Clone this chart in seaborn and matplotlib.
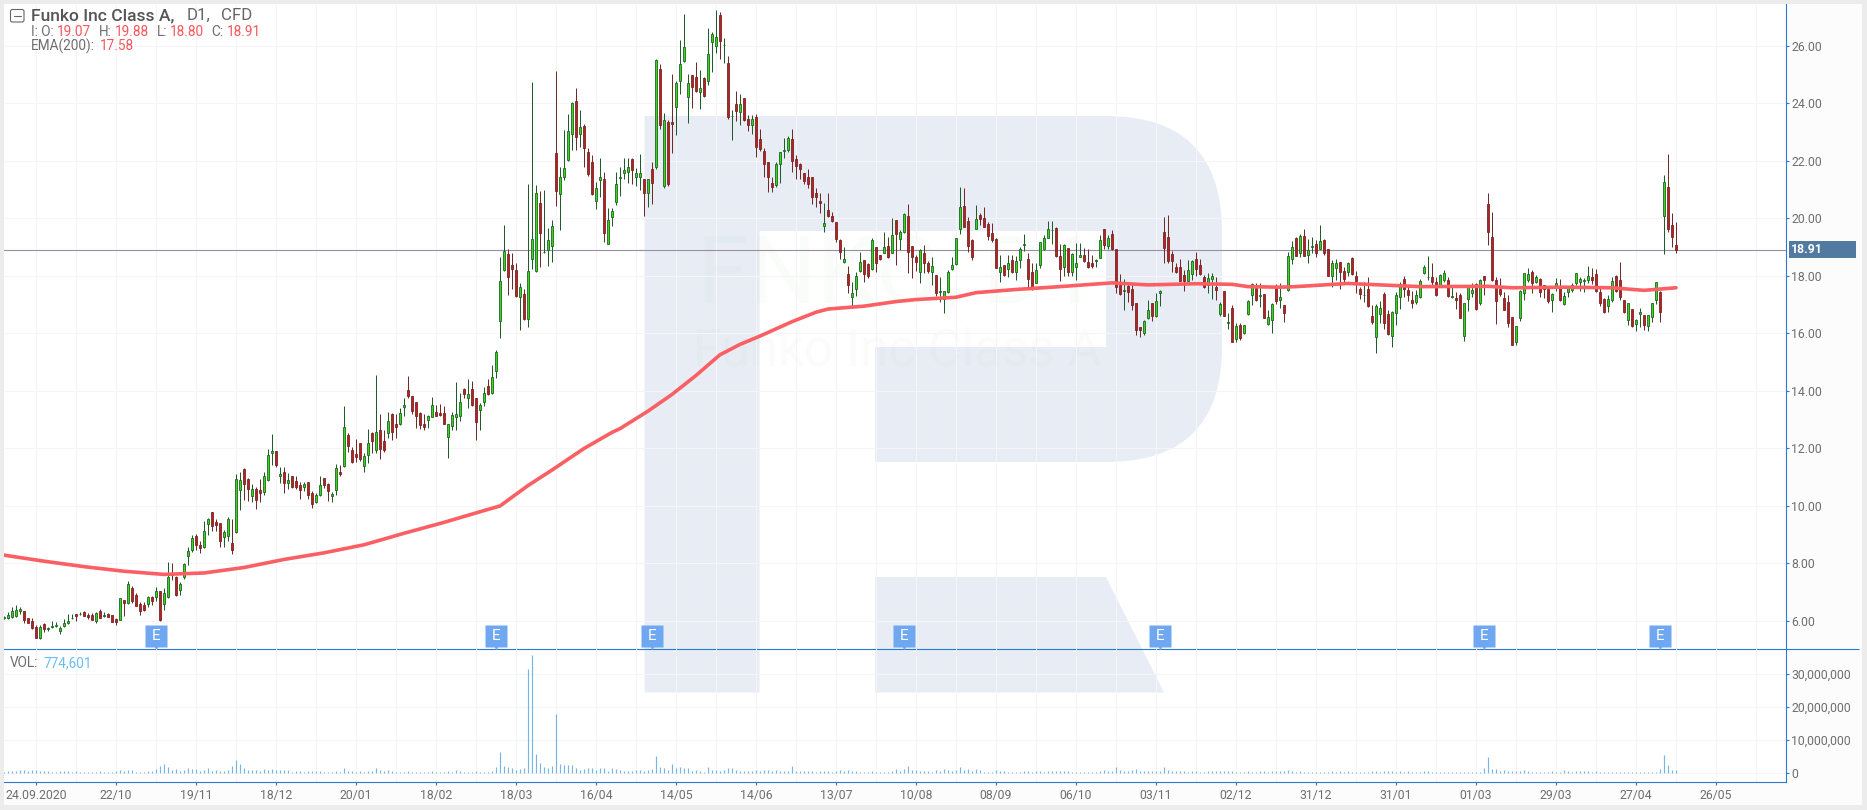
import numpy as np
import matplotlib
matplotlib.use("Agg")
import matplotlib.pyplot as plt
from matplotlib.patches import Rectangle, PathPatch, FancyBboxPatch
from matplotlib.path import Path
from matplotlib.ticker import FuncFormatter, FixedLocator
import seaborn as sns

# Daily candles for Funko Inc Class A
opens = [
6.09,6.10,6.14,6.17,6.35,6.32,6.11,5.98,5.77,5.41,
5.87,5.70,5.79,5.83,5.65,5.81,5.92,6.08,6.22,6.22,
6.31,6.20,6.19,5.99,6.32,6.15,6.22,6.19,6.05,6.03,
6.71,6.63,7.12,6.88,6.57,6.54,6.57,6.82,6.83,7.05,
6.57,6.81,7.63,7.52,7.08,7.51,8.26,8.45,8.93,8.65,
8.57,9.37,9.77,9.43,9.39,8.90,8.96,8.69,9.07,10.56,
11.28,10.92,10.35,10.57,10.53,10.49,10.90,11.84,11.89,11.05,
11.16,10.78,11.05,10.85,10.71,10.66,10.81,10.43,10.12,10.38,
10.95,10.75,10.32,10.53,11.16,11.37,12.46,11.92,11.79,12.17,
11.37,11.77,12.52,11.95,12.65,12.24,12.54,13.18,12.84,12.83,
13.42,14.01,13.80,13.59,13.21,12.83,12.99,13.10,13.25,13.21,
13.21,12.40,12.78,13.10,13.13,14.05,13.76,14.05,13.73,13.32,
13.59,14.15,13.93,14.67,
16.44,18.20,18.74,18.36,18.19,17.27,17.35,16.51,18.59,18.18,
20.52,18.81,18.91,19.05,22.26,20.85,21.42,22.01,22.92,24.07,
22.92,23.20,22.29,21.94,20.61,21.32,21.35,19.11,20.05,20.55,
21.39,21.56,21.60,22.05,21.42,21.42,21.38,20.89,21.70,21.79,
25.18,21.13,23.33,23.33,23.86,24.76,25.46,24.23,24.97,24.90,
24.38,24.87,24.76,26.12,25.98,27.06,26.01,25.39,23.54,23.96,
23.68,24.17,23.44,23.25,23.51,22.74,22.33,21.94,21.21,21.17,
21.87,22.33,22.36,22.74,22.07,21.87,21.56,21.42,21.42,20.87,
20.59,19.74,20.27,20.07,19.86,19.23,18.47,18.05,17.25,17.53,
18.15,18.53,18.40,18.22,18.99,
18.72,18.80,19.04,18.80,19.94,19.29,19.51,20.08,19.04,18.64,
18.12,18.78,18.43,18.12,18.03,17.42,17.20,17.42,18.25,18.42,
19.64,20.43,19.91,19.25,19.61,20.11,20.00,19.80,19.48,19.27,
18.13,18.36,18.22,18.55,18.12,18.54,19.08,18.57,18.12,17.76,
18.37,18.93,19.32,19.58,19.65,18.69,18.31,18.95,18.14,18.31,
18.66,18.73,18.46,18.43,18.52,18.63,19.61,19.04,19.44,18.92,
17.66,17.46,17.64,17.53,17.04,16.20,16.02,16.54,17.04,16.61,
17.39,19.52,19.33,18.74,18.29,18.29,18.01,17.83,18.05,18.57,
18.36,17.94,17.69,17.90,17.61,16.68,17.46,16.37,16.86,15.80,
16.28,15.99,16.68,17.32,17.57,17.31,17.35,16.31,16.47,17.57,
17.16,
16.98,17.50,18.57,19.31,18.78,19.37,18.73,19.00,19.09,18.94,
19.23,18.92,18.00,18.26,18.46,18.15,18.14,18.60,17.98,17.53,
17.32,17.53,16.59,15.86,16.68,17.35,16.66,15.91,16.71,17.27,
17.87,17.49,17.14,17.08,17.25,18.10,17.94,17.94,17.77,17.62,
17.84,17.84,17.25,17.21,17.32,15.89,17.18,17.39,17.70,17.06,
17.98,20.48,19.33,17.84,17.53,17.21,17.07,16.55,15.68,16.52,
17.39,17.85,18.12,17.77,17.87,17.66,17.53,17.14,17.60,17.60,
17.03,17.42,17.49,17.73,17.77,17.83,17.84,17.94,18.05,17.42,
17.18,16.94,17.14,17.98,17.84,17.14,16.45,16.83,16.31,16.66,
16.62,16.24,16.55,17.14,17.42,20.09,21.07,19.75,19.07,
]
closes = [
6.14,6.19,6.32,6.36,6.39,6.02,5.93,5.76,5.41,5.77,
5.72,5.73,5.81,5.86,5.76,5.91,5.98,6.11,6.17,6.24,
6.17,6.14,6.03,6.28,6.10,6.20,6.14,5.97,5.97,6.78,
6.63,7.26,6.70,6.52,6.35,6.37,6.82,6.70,7.02,6.03,
6.95,7.51,7.58,6.89,7.26,7.98,8.41,8.86,8.64,8.54,
9.11,9.52,9.30,9.34,8.78,9.08,9.52,8.46,10.92,10.88,
10.74,10.57,10.57,10.21,10.45,11.02,11.75,11.89,11.41,11.11,
10.80,10.88,10.66,10.64,10.56,10.74,10.38,10.07,10.36,10.71,
10.73,10.51,10.39,11.30,11.11,12.72,12.06,11.53,11.68,11.63,
11.72,12.17,12.26,12.55,11.98,11.95,12.93,12.57,12.75,13.21,
13.49,13.83,13.29,13.13,12.82,12.75,13.11,13.49,13.13,13.14,
12.85,12.83,13.14,13.18,13.59,13.90,13.87,13.50,12.92,13.49,
13.91,13.87,14.46,15.33,
17.80,18.85,17.97,18.24,17.29,17.60,16.49,18.15,19.27,20.87,
19.50,18.83,19.23,19.72,20.96,21.45,21.73,23.02,24.00,22.84,
23.16,22.45,21.54,20.85,21.04,21.45,19.50,19.93,20.24,21.18,
21.42,21.67,21.77,21.69,21.56,21.56,20.89,21.38,21.24,25.49,
23.23,23.40,21.19,23.27,24.69,25.35,25.94,24.69,24.58,24.44,
24.52,24.26,25.70,26.40,26.29,26.15,26.03,23.53,23.57,23.74,
23.96,23.43,23.25,23.44,22.49,22.42,21.87,21.45,21.07,21.87,
22.29,22.36,22.78,21.99,21.83,21.72,21.31,21.18,20.75,20.75,
20.52,19.82,20.09,19.91,19.29,18.84,18.57,17.67,17.39,17.98,
18.47,18.05,17.98,19.23,18.43,
18.57,18.99,18.65,19.42,19.46,19.51,20.15,18.82,18.64,18.49,
18.89,18.45,18.16,18.32,17.41,17.46,17.46,18.12,18.36,19.30,
20.38,19.70,19.04,18.66,19.96,19.98,19.70,19.39,19.25,18.28,
18.29,18.04,18.43,18.14,18.50,18.94,19.10,17.90,17.55,18.20,
19.16,19.30,19.61,19.60,18.69,18.22,19.06,18.12,18.75,18.43,
18.71,18.52,18.29,18.35,18.55,19.23,19.07,19.30,18.92,17.62,
17.37,17.49,17.42,16.99,16.11,16.12,16.41,16.79,16.61,17.13,
17.46,18.98,18.52,18.52,18.14,17.83,17.82,18.19,18.50,18.25,
18.06,17.60,17.91,18.00,17.51,17.00,16.60,16.39,15.71,16.24,
15.82,16.27,17.11,17.70,17.15,17.33,16.54,16.55,17.00,17.12,
17.27,
16.70,18.68,18.99,18.70,19.37,18.70,18.90,19.02,18.80,19.20,
18.80,18.00,18.43,18.43,18.14,17.90,18.43,18.07,17.83,17.35,
17.34,16.95,16.39,16.94,16.86,16.34,15.97,16.75,17.32,17.65,
17.55,17.34,17.06,17.32,17.80,18.29,17.97,17.79,17.34,18.01,
18.08,17.30,17.28,17.15,16.54,17.04,17.60,17.49,16.84,17.84,
17.84,19.51,17.84,17.11,17.35,16.82,16.37,15.60,16.24,17.46,
18.08,18.05,17.73,17.94,17.42,17.53,17.11,17.35,17.73,17.14,
17.28,17.56,17.66,18.08,17.87,17.85,18.00,17.86,17.46,17.06,
16.73,17.18,17.80,17.46,17.27,16.73,17.04,16.24,16.45,16.73,
16.30,16.62,17.04,17.77,16.73,21.25,19.64,19.33,18.91,
]
highs = [
6.16,6.31,6.49,6.53,6.46,6.32,6.11,6.11,5.85,5.85,
5.91,5.79,5.99,5.97,5.81,6.05,6.25,6.23,6.25,6.29,
6.34,6.28,6.28,6.31,6.39,6.31,6.28,6.20,6.08,6.78,
6.71,7.37,7.19,6.95,6.66,6.66,6.86,6.86,7.17,7.05,
7.12,8.03,7.99,7.55,7.36,7.99,8.55,8.98,9.01,8.78,
9.47,9.58,9.77,9.54,9.41,9.15,9.62,9.52,11.09,11.16,
11.30,10.95,10.75,10.66,10.94,11.18,11.96,12.49,11.89,11.33,
11.33,11.12,11.05,11.05,10.82,10.83,10.81,10.51,10.43,11.05,
10.97,10.80,10.49,11.44,11.41,13.47,12.52,12.03,12.32,12.17,
11.84,12.67,12.57,14.54,13.19,12.63,13.25,13.21,13.19,13.39,
13.73,14.51,13.80,13.59,13.27,13.19,13.14,13.78,13.50,13.54,
13.47,12.85,13.25,14.31,13.91,14.08,14.39,14.34,13.73,13.56,
14.14,14.39,14.89,15.41,
18.64,19.76,18.92,18.78,18.43,17.76,17.53,21.19,24.74,21.14,
20.93,20.98,19.66,19.94,25.12,21.79,23.07,23.62,24.04,24.52,
23.76,23.27,22.45,22.20,21.27,22.08,21.62,20.34,20.34,21.60,
21.79,22.08,22.08,22.08,21.73,22.23,21.38,21.38,21.94,25.53,
25.35,23.65,23.42,25.02,24.76,26.20,27.10,25.00,24.98,25.43,
25.16,24.90,26.62,26.47,27.24,27.16,26.26,25.64,23.76,24.42,
24.31,24.17,23.59,23.59,23.62,23.09,22.43,21.94,21.45,21.97,
22.31,22.78,22.86,23.09,22.19,21.91,21.58,21.70,21.45,21.04,
20.89,20.52,20.87,20.23,19.86,19.27,18.99,18.34,17.77,18.12,
18.81,18.53,18.43,19.30,18.99,
18.72,19.53,19.36,20.00,19.94,19.59,20.19,20.49,19.04,18.72,
18.92,19.07,18.52,18.64,18.03,17.97,17.48,18.20,18.66,19.30,
21.07,21.04,20.05,19.26,20.46,20.17,20.40,19.88,19.84,19.30,
18.72,18.37,18.72,18.72,18.68,18.99,19.45,18.78,18.45,18.43,
19.18,19.42,19.90,19.90,19.68,19.10,19.10,18.97,18.80,19.15,
19.15,18.95,18.92,18.72,18.57,19.40,19.61,19.40,19.59,18.92,
18.05,17.87,17.79,17.73,17.04,16.20,16.46,17.15,17.04,17.39,
17.50,20.05,20.11,18.86,18.43,18.58,18.20,18.55,18.55,18.81,
18.57,18.03,18.08,18.11,17.97,17.10,17.48,16.69,16.99,16.34,
16.34,16.28,17.15,17.76,17.73,17.73,17.36,16.81,17.04,17.71,
17.73,
16.98,18.81,19.21,19.36,19.44,19.61,19.26,19.33,19.24,19.75,
19.26,18.92,18.55,18.57,18.46,18.31,18.49,18.64,18.15,17.62,
17.77,17.97,16.98,17.00,17.11,17.42,16.81,16.78,17.43,17.79,
17.99,17.68,17.47,17.50,17.87,18.36,18.69,18.43,17.97,18.05,
18.20,17.97,17.68,17.44,17.41,17.06,17.64,17.76,17.73,17.87,
17.98,20.87,20.20,17.94,17.91,17.44,17.33,16.58,16.26,17.50,
18.11,18.27,18.20,18.03,17.91,17.68,17.56,17.39,17.93,17.87,
17.42,17.60,17.73,18.11,17.97,17.91,18.34,18.26,18.22,17.58,
17.21,17.33,17.97,18.01,18.46,17.16,17.04,16.83,16.48,16.86,
16.64,16.64,17.06,17.79,17.47,21.50,22.23,20.17,19.88,
]
lows = [
6.05,6.05,6.10,6.14,6.25,5.93,5.91,5.72,5.41,5.37,
5.62,5.64,5.76,5.79,5.55,5.77,5.88,6.05,5.99,6.20,
6.16,6.06,6.02,5.93,6.09,6.14,6.13,5.95,5.86,6.02,
6.16,6.57,6.60,6.51,6.21,6.35,6.49,6.54,6.68,6.00,
6.37,6.78,7.41,6.87,6.90,7.44,7.94,8.40,8.46,8.37,
8.52,8.98,9.12,9.13,8.57,8.55,8.78,8.33,9.04,9.85,
10.20,10.16,10.13,9.90,10.14,10.38,10.87,11.40,11.36,10.78,
10.45,10.59,10.61,10.59,10.24,10.52,10.24,9.93,10.08,10.34,
10.60,10.17,10.13,10.38,11.03,11.33,11.88,11.50,11.53,11.57,
11.18,11.47,11.84,11.84,11.63,11.88,12.35,12.28,12.37,12.81,
13.12,13.76,13.19,12.71,12.67,12.63,12.69,13.07,13.12,13.12,
12.84,11.67,12.65,12.63,12.94,13.74,13.39,13.47,12.30,12.64,
13.48,13.86,13.90,14.45,
15.85,18.18,17.33,17.53,17.25,16.11,16.46,16.23,18.24,18.14,
18.31,18.78,18.35,18.49,20.42,19.59,21.33,22.00,22.37,22.37,
22.49,21.79,21.48,20.80,20.33,20.75,19.18,19.10,19.74,20.47,
20.78,21.38,21.21,21.19,21.12,20.98,20.09,20.40,20.49,21.72,
23.09,21.06,21.12,22.26,22.91,24.33,25.43,23.32,23.82,24.39,
23.81,24.23,24.65,25.10,25.73,25.55,25.39,23.44,22.72,23.39,
23.24,23.39,23.05,22.93,22.12,22.35,21.45,20.92,20.92,21.07,
21.22,22.08,22.31,21.62,21.38,21.38,21.20,21.04,20.49,20.40,
20.19,19.53,20.05,19.88,19.17,18.57,18.43,17.39,16.92,17.29,
18.13,17.79,17.93,18.20,18.14,
18.55,18.78,18.60,18.78,18.37,18.89,19.47,18.08,17.91,18.18,
17.76,18.08,18.08,17.68,17.29,17.10,16.71,17.41,18.20,18.37,
19.44,19.68,18.84,18.55,19.61,19.76,19.68,19.24,19.16,18.26,
17.79,17.99,17.94,18.08,17.85,18.26,18.87,17.56,17.50,17.73,
18.26,18.89,19.30,19.10,18.66,17.82,17.99,17.99,17.99,17.85,
18.66,18.48,18.27,18.28,18.31,18.60,18.92,18.92,18.89,17.41,
17.33,16.81,17.10,16.81,15.94,15.88,15.94,16.48,16.44,16.58,
16.96,18.43,18.43,18.12,18.11,17.82,17.48,17.82,17.85,17.99,
18.03,17.56,17.39,17.19,17.15,16.61,16.60,16.13,15.69,15.71,
15.76,15.96,16.63,16.98,17.13,16.92,16.52,16.27,16.02,17.02,
16.87,
16.40,17.48,18.41,18.68,18.66,18.68,18.45,18.78,18.66,18.92,
18.72,17.99,17.62,17.85,17.55,17.76,17.99,18.03,17.41,17.19,
17.10,16.90,16.32,15.32,16.34,16.15,15.93,15.53,16.28,16.83,
17.27,17.13,16.88,17.00,17.21,18.06,17.85,17.62,17.29,17.60,
17.79,17.25,17.24,16.83,16.52,15.74,16.78,17.27,16.81,16.99,
17.33,19.07,17.83,16.32,17.29,16.81,16.23,15.59,15.60,16.42,
17.15,17.79,17.41,17.73,17.27,17.21,17.04,16.75,17.48,17.13,
16.99,17.27,17.43,17.68,17.48,17.44,17.73,17.71,17.44,16.95,
16.69,16.75,17.10,17.43,17.15,16.71,16.28,16.23,16.09,16.23,
16.11,16.09,16.40,17.00,16.39,18.74,19.53,19.01,18.80,
]
# Daily volume, millions of shares
volumes_m = [
0.3,
0.5,0.5,0.5,0.7,0.7,0.4,0.7,0.7,0.5,0.5,0.5,0.3,0.3,0.5,0.6,0.5,0.3,0.5,0.3,0.3,
0.3,0.3,0.3,0.5,0.3,0.3,0.3,0.5,0.9,0.6,0.8,0.7,0.3,0.3,0.3,0.5,0.5,1.1,2.1,2.7,
1.8,0.8,1.2,0.6,0.8,1.4,1.0,1.0,0.6,0.9,1.4,0.5,0.8,0.6,0.5,0.7,2.1,3.8,2.5,1.4,
0.8,0.9,0.7,0.5,1.1,0.9,1.0,0.8,0.8,0.7,0.7,0.3,0.5,0.5,0.3,0.4,0.6,0.5,0.5,0.3,
0.3,0.3,0.5,0.3,1.5,0.6,0.5,0.3,0.5,0.3,0.5,0.5,1.4,0.8,0.5,0.8,0.4,0.3,0.3,0.3,
0.5,0.3,0.3,0.3,0.3,0.3,0.5,0.3,0.3,0.3,0.5,0.3,0.8,0.5,0.3,0.3,0.3,0.5,0.3,0.3,
0.3,0.6,1.7,6.2,2.1,1.7,1.4,0.9,1.1,
1.4,
31.5,35.7,5.8,2.8,1.7,1.3,1.9,17.8,
2.5,2.2,2.2,2.2,1.5,0.9,1.2,1.4,1.4,0.9,1.4,1.5,0.6,1.5,1.2,0.8,0.6,0.4,0.5,0.8,
0.9,0.6,0.8,1.0,5.0,1.8,1.5,0.9,2.7,1.5,1.8,1.5,1.4,0.6,0.9,0.6,0.3,1.7,0.9,0.9,
0.6,0.9,1.5,1.4,0.8,0.6,0.5,0.5,0.6,0.9,0.5,0.9,0.8,0.5,0.9,0.6,0.5,0.5,2.1,0.5,
0.5,0.5,0.6,0.5,0.3,0.5,0.5,0.5,0.3,0.5,0.8,0.5,0.8,0.6,0.5,0.2,0.2,0.2,0.5,0.3,
0.2,0.3,0.3,0.6,1.2,0.6,1.2,2.0,0.9,0.9,0.6,0.5,0.5,0.3,0.8,0.5,1.0,0.8,0.6,0.8,
1.8,0.9,1.2,0.6,1.2,0.8,0.3,0.3,0.3,0.8,0.5,0.5,0.3,0.3,0.3,0.3,0.5,0.6,0.3,0.5,
0.6,
0.3,0.5,0.6,0.6,0.6,0.6,0.6,0.3,0.2,0.2,0.2,0.3,0.2,0.3,0.5,0.8,0.5,0.5,1.8,0.8,
0.6,0.5,0.9,1.0,0.6,0.6,0.6,0.5,0.6,0.6,1.8,0.9,0.6,0.6,0.6,0.5,0.3,0.5,0.5,0.3,
0.3,0.5,0.6,0.5,0.5,0.5,0.6,0.6,0.3,0.3,0.3,0.5,0.3,0.3,0.6,0.5,0.3,0.6,0.6,0.6,
0.5,0.9,0.5,0.3,0.5,0.3,0.3,0.3,0.2,0.2,0.2,0.3,0.5,0.3,0.5,0.3,0.5,0.3,0.3,0.3,
0.3,0.3,0.6,0.6,0.3,0.6,0.6,0.5,0.3,0.6,0.3,0.5,0.3,0.3,0.3,0.5,0.5,0.3,0.2,0.2,
0.2,0.2,0.2,0.2,0.2,0.3,0.3,0.3,0.3,0.3,1.5,4.8,1.2,1.2,0.5,0.8,0.6,0.6,0.6,0.6,
0.8,0.6,0.3,0.3,0.3,0.2,0.2,0.5,0.2,0.3,
0.8,0.6,0.3,0.5,0.5,0.5,0.5,0.3,0.6,0.3,0.3,0.3,0.3,0.3,0.3,0.3,0.3,0.3,0.3,0.3,
0.3,0.3,0.3,0.3,1.0,5.5,2.2,0.9,0.77,
]
# EMA(200) read at selected bars
ema_bars = [0,10,20,30,40,50,60,70,80,90,100,110,120,124,131,137,145,152,154,161,167,173,179,184,189,197,203,206,
            215,223,228,238,243,253,263,277,286,298,307,311,319,323,336,344,354,371,377,390,402,410,418]
ema_values = [8.28,8.07,7.88,7.72,7.61,7.66,7.85,8.13,8.36,8.64,9.04,9.42,9.83,9.99,10.70,11.24,11.99,12.55,12.68,
              13.29,13.87,14.53,15.25,15.61,15.90,16.40,16.73,16.84,16.94,17.10,17.17,17.25,17.41,17.52,17.61,
              17.75,17.68,17.72,17.70,17.62,17.60,17.62,17.73,17.68,17.62,17.63,17.58,17.60,17.58,17.49,17.58]
date_labels = ["24.09.2020","22/10","19/11","18/12","20/01","18/02","18/03","16/04","14/05","14/06","13/07",
               "10/08","08/09","06/10","03/11","02/12","31/12","31/01","01/03","29/03","27/04","26/05"]
price_ticks = [6,8,10,12,14,16,18,20,22,24,26]
volume_ticks = [0,10_000_000,20_000_000,30_000_000]
earnings_bars = [38,123,162,225,289,370,414]
last_close = 18.91

assert len(opens) == len(closes) == len(highs) == len(lows) == len(volumes_m) == 419, \
    (len(opens), len(closes), len(highs), len(lows), len(volumes_m))

W, H = 1867, 810
sns.set_theme(style="white")
plt.rcParams["font.family"] = ["Roboto", "DejaVu Sans"]

GREY_TEXT = "#6e6e6e"
RED_TEXT = "#f5575c"
BLUE_AXIS = "#2a7ad2"
GRID = "#f5f5f7"
LOGO = "#e8edf5"

fig = plt.figure(figsize=(W / 100, H / 100), dpi=100, facecolor="#ececec")

# Page furniture in a backing layer measured in canvas units
page = fig.add_axes([0, 0, 1, 1], zorder=0)
page.set_xlim(0, W)
page.set_ylim(H, 0)
page.axis("off")
page.add_patch(Rectangle((4, 4), 1858, 801, fc="#fcfcfc", ec="none"))
page.add_patch(Rectangle((4, 4), 1781.5, 778, fc="white", ec="none"))

# Broker logo behind the chart
logo_cmds = [Path.MOVETO, Path.LINETO, Path.CURVE3, Path.CURVE3, Path.LINETO, Path.CURVE3, Path.CURVE3,
             Path.LINETO, Path.LINETO, Path.LINETO, Path.LINETO, Path.LINETO, Path.LINETO, Path.LINETO,
             Path.CLOSEPOLY]
logo_pts = [(644.5, 116), (1106, 116), (1222, 116), (1222, 232), (1222, 347), (1222, 462), (1106, 462),
            (875, 462), (875, 347), (1106, 347), (1106, 231), (759.6, 231), (759.6, 692.5), (644.5, 692.5),
            (644.5, 116)]
page.add_patch(PathPatch(Path(logo_pts, logo_cmds), fc=LOGO, ec="none"))
page.add_patch(plt.Polygon([(875, 577), (1106, 577), (1164, 692.5), (875, 692.5)], fc=LOGO, ec="none"))
page.text(697, 302, "FNKO, D1", fontsize=68, color="#2e7d32", alpha=0.02, ha="left", va="baseline")
page.text(693, 366, "Funko Inc Class A", fontsize=37, color="#2e7d32", alpha=0.025, ha="left", va="baseline")

# Pane separator runs on past the scale column
page.plot([1785.5, 1859], [649.3, 649.3], color=BLUE_AXIS, lw=0.8, solid_capstyle="butt")

# Price and volume panes
left, right = 4 / W, 1785.5 / W
ax = fig.add_axes([left, 1 - 649.3 / H, right - left, (649.3 - 4) / H], zorder=2, facecolor="none")
ax_vol = fig.add_axes([left, 1 - 782 / H, right - left, (782 - 649.3) / H], zorder=2, facecolor="none", sharex=ax)

# Legend block sits above the panes
legend = fig.add_axes([0, 0, 1, 1], zorder=5, facecolor="none")
legend.set_xlim(0, W)
legend.set_ylim(H, 0)
legend.axis("off")
legend.add_patch(FancyBboxPatch((10.5, 9.5), 13.5, 12.5, boxstyle="round,pad=0,rounding_size=2", fc="white", ec="#666666", lw=0.8))
legend.plot([14, 20.5], [15.8, 15.8], color="#666666", lw=0.8)
legend.text(30.7, 15.8, "Funko Inc Class A,", fontsize=12.6, color="#555555", fontweight="medium", va="center")
legend.text(187, 15.8, "D1,", fontsize=12.2, color="#666666", va="center")
legend.text(221, 15.8, "CFD", fontsize=12.2, color="#666666", va="center")
for x, s, col in [(30.7, "I: O:", GREY_TEXT), (57.3, "19.07", RED_TEXT), (98.7, "H:", GREY_TEXT), (115, "19.88", RED_TEXT),
                  (156.7, "L:", GREY_TEXT), (170, "18.80", RED_TEXT), (211.7, "C:", GREY_TEXT), (227.3, "18.91", RED_TEXT)]:
    legend.text(x, 32.5, s, fontsize=9.8, color=col, va="center")
legend.text(30.7, 46.5, "EMA(200):", fontsize=9.8, color=GREY_TEXT, va="center")
legend.text(99.7, 46.5, "17.58", fontsize=9.8, color=RED_TEXT, va="center")
legend.text(10, 663, "VOL:", fontsize=9.8, color=GREY_TEXT, va="center")
legend.text(44, 663, "774,601", fontsize=9.8, color="#6bbcf0", va="center")

bars = np.arange(len(opens))
o, c, hi, lo = map(np.array, (opens, closes, highs, lows))
up = c >= o
down = ~up

ax.set_axisbelow(True)
ax.axhline(last_close, color="#9a8ea3", lw=0.8, zorder=1.5)
ax.vlines(bars[up], lo[up], hi[up], color="#1f5c2a", lw=0.72, zorder=2)
ax.vlines(bars[down], lo[down], hi[down], color="#6f2a2a", lw=0.72, zorder=2)
ax.bar(bars[up], (c - o)[up], bottom=o[up], width=0.55, color="#39d80f", edgecolor="#1c6328", linewidth=0.6, zorder=3)
ax.bar(bars[down], (c - o)[down], bottom=o[down], width=0.55, color="#bb1f1f", edgecolor="#742525", linewidth=0.6, zorder=3)

sns.lineplot(x=ema_bars, y=ema_values, ax=ax, color="#f95f63", lw=2.6, zorder=4, estimator=None, sort=False)

ax.set_xlim(0, (1785.5 - 4) / 4)
ax.set_ylim(5.005, 27.45)

tick_bars = [8 + 20 * k for k in range(len(date_labels))]
grid_bars = [8 + 10 * k for k in range(44)]

for a in (ax, ax_vol):
    a.yaxis.tick_right()
    a.xaxis.set_major_locator(FixedLocator(tick_bars))
    a.xaxis.set_minor_locator(FixedLocator(grid_bars))
    a.grid(True, which="both", axis="x", color=GRID, lw=0.8)
    a.grid(True, which="major", axis="y", color=GRID, lw=0.8)
    for s in ("left", "top"):
        a.spines[s].set_visible(False)
    for s in ("right", "bottom"):
        a.spines[s].set_color(BLUE_AXIS)
        a.spines[s].set_linewidth(0.8)
    a.tick_params(axis="y", which="major", right=True, length=2.4, width=0.8, color=BLUE_AXIS,
                  labelcolor=GREY_TEXT, labelsize=8.8, pad=1.6)
    a.tick_params(axis="x", which="minor", bottom=False)

ax.set_yticks(price_ticks)
ax.yaxis.set_major_formatter(FuncFormatter(lambda v, _: f"{v:.2f}"))
ax.tick_params(axis="x", which="both", bottom=False, labelbottom=False)
ax.set_xlabel("")
ax.set_ylabel("")

# Last price tag on the scale column
axis_to_px = 1781.5
ax.add_patch(Rectangle((1785 / axis_to_px, last_close - 0.29), 67 / axis_to_px, 0.58,
                       transform=ax.get_yaxis_transform(), fc="#527aa0", ec="none", clip_on=False, zorder=5))
ax.text(1787 / axis_to_px, last_close, f"{last_close:.2f}", transform=ax.get_yaxis_transform(),
        color="white", fontsize=8.8, fontweight="bold", va="center", ha="left", zorder=6, clip_on=False)

# Earnings flags along the bottom of the price pane
flag_trans = ax.get_xaxis_transform()
for b in earnings_bars:
    ax.plot([b], [0.0205], marker="s", ms=15.2, color="#6fa8f0", mec="none", transform=flag_trans, zorder=6, ls="")
    ax.plot([b], [0.0045], marker="v", ms=5.5, color="#6fa8f0", mec="none", transform=flag_trans, zorder=6, ls="")
    ax.text(b, 0.0205, "E", transform=flag_trans, color="white", fontsize=11, ha="center", va="center", zorder=7)

# Volume pane
ax_vol.vlines(bars, 0, np.array(volumes_m) * 1e6, color="#74b6e6", lw=0.85, zorder=3)
ax_vol.set_ylim(-2.82e6, 37.4e6)
ax_vol.set_yticks(volume_ticks)
ax_vol.yaxis.set_major_formatter(FuncFormatter(lambda v, _: f"{int(v):,}"))
ax_vol.set_xticklabels(date_labels)
ax_vol.tick_params(axis="x", which="major", bottom=True, length=2.4, width=0.8, color=BLUE_AXIS,
                   labelcolor=GREY_TEXT, labelsize=8.8, pad=2.4)
ax_vol.set_xlabel("")
ax_vol.set_ylabel("")

fig.savefig("out.png", dpi=100, facecolor=fig.get_facecolor())
